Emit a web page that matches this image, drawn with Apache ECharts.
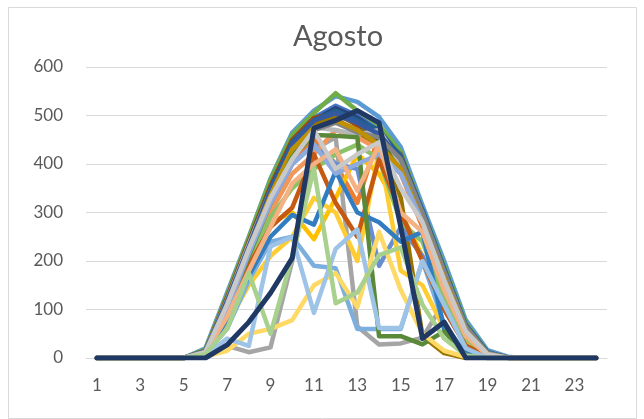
<!DOCTYPE html>
<html>
<head>
<meta charset="utf-8">
<script src="https://cdn.jsdelivr.net/npm/echarts@6/dist/echarts.min.js"></script>
<style>
  html, body { margin: 0; padding: 0; background: #fff; }
  #chart { width: 644px; height: 419px; }
</style>
</head>
<body>
<div id="chart"></div>
<script>
// Hours of the day (x axis)
const hours = ['1','2','3','4','5','6','7','8','9','10','11','12','13','14','15','16','17','18','19','20','21','22','23','24'];
const yTicks = [0, 100, 200, 300, 400, 500, 600];

// One line per day of August (irradiance per hour)
const d01 = [0,0,0,0,0,15,120,235,350,445,495,520,500,470,410,300,180,65,10,0,0,0,0,0];
const d02 = [0,0,0,0,0,12,100,220,330,410,450,400,320,460,380,270,150,50,8,0,0,0,0,0];
const d03 = [0,0,0,0,0,5,25,12,22,200,430,455,65,28,30,42,115,20,0,0,0,0,0,0];
const d04 = [0,0,0,0,0,10,80,180,280,300,245,330,420,380,300,210,110,35,5,0,0,0,0,0];
const d05 = [0,0,0,0,0,20,135,250,370,465,510,540,528,497,435,315,200,78,16,2,0,0,0,0];
const d06 = [0,0,0,0,0,18,130,248,368,460,505,546,510,480,425,305,190,72,12,0,0,0,0,0];
const d07 = [0,0,0,0,0,14,118,232,345,440,490,515,495,465,405,295,175,60,10,0,0,0,0,0];
const d08 = [0,0,0,0,0,15,125,240,355,450,495,505,480,460,400,290,170,55,8,0,0,0,0,0];
const d09 = [0,0,0,0,0,13,115,228,340,435,485,500,485,455,420,300,180,62,10,0,0,0,0,0];
const d10 = [0,0,0,0,0,12,110,225,345,440,480,495,460,430,330,45,10,0,0,0,0,0,0,0];
const d11 = [0,0,0,0,0,14,120,235,350,445,490,510,490,470,415,305,185,68,12,0,0,0,0,0];
const d12 = [0,0,0,0,0,12,105,215,320,420,470,490,470,450,400,290,170,58,9,0,0,0,0,0];
const d13 = [0,0,0,0,0,12,105,210,310,400,440,400,390,190,270,210,100,25,3,0,0,0,0,0];
const d14 = [0,0,0,0,0,10,95,205,300,380,420,470,455,430,380,280,160,55,8,0,0,0,0,0];
const d15 = [0,0,0,0,0,14,120,235,345,430,475,470,460,470,400,290,170,60,10,0,0,0,0,0];
const d16 = [0,0,0,0,0,8,70,150,210,250,330,300,200,430,180,150,60,12,0,0,0,0,0,0];
const d17 = [0,0,0,0,0,8,60,160,240,250,190,185,60,60,60,200,70,10,0,0,0,0,0,0];
const d18 = [0,0,0,0,0,10,90,200,290,350,390,420,440,410,280,240,120,40,5,0,0,0,0,0];
const d19 = [0,0,0,0,0,14,118,230,345,440,490,505,485,462,410,300,178,63,10,0,0,0,0,0];
const d20 = [0,0,0,0,0,10,90,190,270,310,420,320,250,410,300,200,100,25,3,0,0,0,0,0];
const d21 = [0,0,0,0,0,13,112,225,335,430,470,485,465,455,410,300,180,65,10,0,0,0,0,0];
const d22 = [0,0,0,0,0,12,108,222,335,430,475,490,470,440,390,280,165,55,8,0,0,0,0,0];
const d23 = [0,0,0,0,0,8,80,170,250,295,275,385,300,280,240,260,60,10,0,0,0,0,0,0];
const d24 = [0,0,0,0,0,12,100,210,320,415,460,458,455,45,45,28,55,5,0,0,0,0,0,0];
const d25 = [0,0,0,0,0,12,100,215,320,400,440,380,400,420,380,280,160,50,6,0,0,0,0,0];
const d26 = [0,0,0,0,0,10,85,180,270,360,400,430,345,440,300,260,140,45,5,0,0,0,0,0];
const d27 = [0,0,0,0,0,12,110,225,330,410,470,390,420,445,350,280,160,55,8,0,0,0,0,0];
const d28 = [0,0,0,0,0,3,15,50,60,78,150,175,105,260,140,50,15,2,0,0,0,0,0,0];
const d29 = [0,0,0,0,0,5,40,25,230,250,93,225,265,62,62,200,110,20,0,0,0,0,0,0];
const d30 = [0,0,0,0,0,8,60,175,50,210,390,113,135,212,228,110,40,5,0,0,0,0,0,0];
const d31 = [0,0,0,0,0,0,27,74,134,206,474,490,510,485,270,40,74,0,0,0,0,0,0,0];

const days = [d01,d02,d03,d04,d05,d06,d07,d08,d09,d10,d11,d12,d13,d14,d15,d16,
              d17,d18,d19,d20,d21,d22,d23,d24,d25,d26,d27,d28,d29,d30,d31];

// Office-style series colours
const palette = [
  '#4472C4','#ED7D31','#A5A5A5','#FFC000','#5B9BD5','#70AD47',
  '#264478','#9E480E','#636363','#997300','#255E91','#43682B',
  '#698ED0','#F1975A','#B7B7B7','#FFCD33','#7CAFDD','#8CC168',
  '#335AA1','#C65911','#848484','#BF9000','#327DC2','#5A8A39',
  '#8FAADC','#F4B183','#C9C9C9','#FFD966','#9DC3E6','#A9D18E',
  '#203864'
];

const chart = echarts.init(document.getElementById('chart'), null, { renderer: 'canvas' });
const font = 'Lato, "Open Sans", "Liberation Sans", sans-serif';

chart.setOption({
  animation: false,
  backgroundColor: '#ffffff',
  title: {
    text: 'Agosto',
    left: 333,
    top: 17,
    textAlign: 'center',
    textStyle: { fontFamily: font, fontSize: 29, fontWeight: 'normal', color: '#595959' }
  },
  graphic: [{
    type: 'rect',
    shape: { x: 8.5, y: 7.5, width: 628, height: 411 },
    style: { fill: 'none', stroke: '#D9D9D9', lineWidth: 1 },
    silent: true
  }],
  grid: { left: 86, right: 37, top: 67, bottom: 61 },
  xAxis: {
    type: 'category',
    data: hours,
    boundaryGap: true,
    axisLine: { show: true, lineStyle: { color: '#D9D9D9', width: 1 } },
    axisTick: { show: false },
    axisLabel: { interval: 1, color: '#595959', fontFamily: font, fontSize: 17, margin: 19 }
  },
  yAxis: {
    type: 'value',
    min: yTicks[0],
    max: yTicks[yTicks.length - 1],
    interval: 100,
    axisLine: { show: false },
    axisTick: { show: false },
    splitLine: { lineStyle: { color: '#D9D9D9', width: 1 } },
    axisLabel: { color: '#595959', fontFamily: font, fontSize: 17, margin: 23 }
  },
  series: days.map((vals, i) => ({
    name: String(i + 1),
    type: 'line',
    data: vals,
    symbol: 'none',
    smooth: false,
    lineStyle: { color: palette[i], width: i === days.length - 1 ? 5 : 4.5, cap: 'round', join: 'round' },
    itemStyle: { color: palette[i] }
  }))
});
</script>
</body>
</html>
